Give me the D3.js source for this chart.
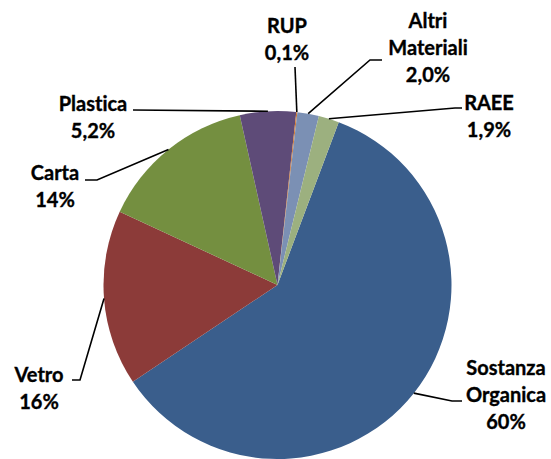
<!DOCTYPE html>
<html>
<head>
<meta charset="utf-8">
<script src="https://cdn.jsdelivr.net/npm/d3@7"></script>
<style>
  html, body { margin: 0; padding: 0; background: #fff; }
  svg { display: block; }
  text { font-family: Lato, "Open Sans", sans-serif; font-weight: bold; font-size: 20px; fill: #000;
         font-variant-ligatures: none; stroke: #000; stroke-width: 0.35px; }
</style>
</head>
<body>
<svg id="chart" width="551" height="459"></svg>
<script>
// ---- data ----
const categories = ["Sostanza Organica", "Vetro", "Carta", "Plastica", "RUP", "Altri Materiali", "RAEE"];
const shares = [59.9, 16.3, 14.6, 5.2, 0.1, 2.0, 1.9];
const shareLabels = ["60%", "16%", "14%", "5,2%", "0,1%", "2,0%", "1,9%"];
const nameLines = [["Sostanza", "Organica"], ["Vetro"], ["Carta"], ["Plastica"], ["RUP"], ["Altri", "Materiali"], ["RAEE"]];
const colors = ["#3A5E8C", "#8C3B39", "#748F40", "#5E4B78", "#D2772F", "#7B90B4", "#9CB07F"];

// ---- layout (label placement, leader line bends) ----
const labelLayout = [
  { cx: 506, y: 375, pts: [[452, 401], [462, 401]] },
  { cx: 39,  y: 382, pts: [[80, 380], [72, 380]] },
  { cx: 55,  y: 180, pts: [[97, 180], [85, 180]] },
  { cx: 93,  y: 111, pts: [[133, 110]] },
  { cx: 287, y: 33,  pts: [[295, 67]] },
  { cx: 428, y: 28,  pts: [[370, 60], [382, 60]] },
  { cx: 489, y: 110, pts: [[455, 108], [462, 108]] }
];
const lineHeight = 27;

const svg = d3.select("#chart");
const cx = 277.5, cy = 285, R = 174;
const startA = 20.6 * Math.PI / 180;

const data = categories.map((c, i) => ({ name: c, value: shares[i], i }));
const pie = d3.pie().value(d => d.value).sort(null)
  .startAngle(startA).endAngle(startA + 2 * Math.PI);
const arcs = pie(data);
const arc = d3.arc().innerRadius(0).outerRadius(R);

const g = svg.append("g").attr("transform", `translate(${cx},${cy})`);
g.selectAll("path.slice").data(arcs).enter().append("path")
  .attr("class", "slice")
  .attr("d", arc)
  .attr("fill", d => colors[d.data.i]);

// leader lines
const line = d3.line();
arcs.forEach(a => {
  const mid = (a.startAngle + a.endAngle) / 2;
  const sx = cx + R * Math.sin(mid), sy = cy - R * Math.cos(mid);
  const L = labelLayout[a.data.i];
  svg.append("path")
    .attr("d", line([[sx, sy], ...L.pts]))
    .attr("fill", "none").attr("stroke", "#000").attr("stroke-width", 1.6);
});

// labels
arcs.forEach(a => {
  const i = a.data.i;
  const L = labelLayout[i];
  const lines = [...nameLines[i], shareLabels[i]];
  const t = svg.append("text").attr("text-anchor", "middle");
  lines.forEach((s, k) => {
    t.append("tspan").attr("x", L.cx).attr("y", L.y + k * lineHeight).text(s);
  });
});
</script>
</body>
</html>
